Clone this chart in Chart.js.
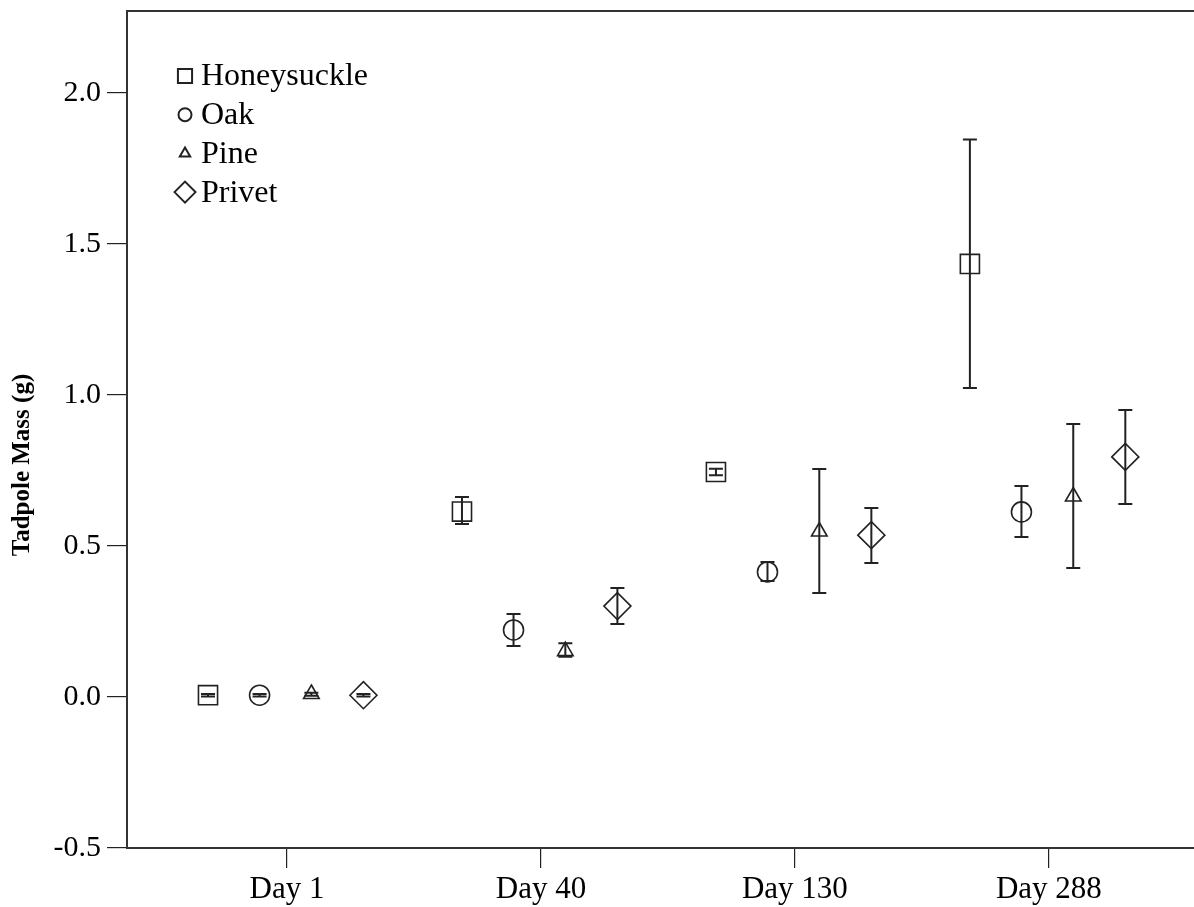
<!DOCTYPE html>
<html>
<head>
<meta charset="utf-8">
<script src="https://cdn.jsdelivr.net/npm/chart.js@4.4.1/dist/chart.umd.min.js"></script>
<style>
  html, body { margin: 0; padding: 0; background: #fff; }
  #wrap { width: 1194px; height: 907px; }
</style>
</head>
<body>
<div id="wrap"><canvas id="massChart"></canvas></div>
<script>
// tick labels / categories
const categories = ['Day 1', 'Day 40', 'Day 130', 'Day 288'];
const seriesNames = ['Honeysuckle', 'Oak', 'Pine', 'Privet'];
const yTickValues = [-0.5, 0.0, 0.5, 1.0, 1.5, 2.0];
const yTitle = 'Tadpole Mass (g)';

// mean mass (g) and error bar ends
const honeysuckleMean = [0.006, 0.614, 0.745, 1.434];
const honeysuckleLow  = [0.002, 0.573, 0.734, 1.023];
const honeysuckleHigh = [0.010, 0.662, 0.756, 1.846];

const oakMean = [0.006, 0.222, 0.414, 0.613];
const oakLow  = [0.002, 0.169, 0.384, 0.530];
const oakHigh = [0.010, 0.275, 0.447, 0.699];

const pineMean = [0.010, 0.152, 0.548, 0.664];
const pineLow  = [0.004, 0.133, 0.344, 0.427];
const pineHigh = [0.014, 0.178, 0.755, 0.904];

const privetMean = [0.006, 0.301, 0.536, 0.795];
const privetLow  = [0.002, 0.242, 0.444, 0.639];
const privetHigh = [0.010, 0.361, 0.626, 0.950];

// layout of the clustered markers inside each day
const groupOffsets = [-0.311, -0.108, 0.096, 0.301];
const pointStyles = ['rect', 'circle', 'triangle', 'rectRot'];
const pointRadii = [13.5, 10, 9, 13.5];
const legendRadii = [10, 6.5, 6, 10.5];
const frameTop = 11;

const means = [honeysuckleMean, oakMean, pineMean, privetMean];
const lows = [honeysuckleLow, oakLow, pineLow, privetLow];
const highs = [honeysuckleHigh, oakHigh, pineHigh, privetHigh];

const ink = '#222';
const serif = "'Liberation Serif', 'Times New Roman', serif";

const datasets = seriesNames.map((name, s) => ({
    label: name,
    data: means[s].map((v, i) => ({ x: i + groupOffsets[s], y: v })),
    errLow: lows[s],
    errHigh: highs[s],
    showLine: false,
    pointStyle: pointStyles[s],
    pointRadius: pointRadii[s],
    pointHoverRadius: pointRadii[s],
    pointBorderWidth: 1.6,
    borderColor: ink,
    backgroundColor: 'rgba(0,0,0,0)'
}));

// error bars drawn from the y scale
const errorBars = {
    id: 'errorBars',
    afterDatasetsDraw(chart) {
        const ctx = chart.ctx;
        const y = chart.scales.y;
        ctx.save();
        ctx.strokeStyle = ink;
        ctx.lineWidth = 2;
        chart.data.datasets.forEach((ds, d) => {
            const meta = chart.getDatasetMeta(d);
            meta.data.forEach((pt, i) => {
                const top = y.getPixelForValue(ds.errHigh[i]);
                const bot = y.getPixelForValue(ds.errLow[i]);
                ctx.beginPath();
                ctx.moveTo(pt.x, top); ctx.lineTo(pt.x, bot);
                ctx.moveTo(pt.x - 7, top); ctx.lineTo(pt.x + 7, top);
                ctx.moveTo(pt.x - 7, bot); ctx.lineTo(pt.x + 7, bot);
                ctx.stroke();
            });
        });
        ctx.restore();
    }
};

// frame lines to the page edge, axis title and legend inside the plot
const frameAndLegend = {
    id: 'frameAndLegend',
    afterDraw(chart) {
        const ctx = chart.ctx;
        const a = chart.chartArea;
        ctx.save();
        ctx.strokeStyle = '#333';
        ctx.lineWidth = 2;
        ctx.beginPath();
        ctx.moveTo(a.left - 1, frameTop);
        ctx.lineTo(chart.width, frameTop);
        ctx.moveTo(a.left, frameTop - 1);
        ctx.lineTo(a.left, a.top + 2);
        ctx.moveTo(a.right - 1, a.bottom);
        ctx.lineTo(chart.width, a.bottom);
        ctx.stroke();

        // y axis title
        ctx.save();
        ctx.translate(23, 465);
        ctx.rotate(-Math.PI / 2);
        ctx.font = 'bold 25px ' + serif;
        ctx.fillStyle = '#000';
        ctx.textAlign = 'center';
        ctx.textBaseline = 'middle';
        ctx.fillText(yTitle, 0, 0);
        ctx.restore();

        ctx.font = '32px ' + serif;
        ctx.textBaseline = 'middle';
        chart.data.datasets.forEach((ds, s) => {
            const cx = a.left + 58;
            const cy = frameTop + 65 + s * 38.7;
            ctx.strokeStyle = ink;
            ctx.fillStyle = 'rgba(0,0,0,0)';
            if (Chart.helpers && Chart.helpers.drawPoint) {
                Chart.helpers.drawPoint(ctx, {
                    pointStyle: pointStyles[s], radius: legendRadii[s],
                    borderWidth: 1.4, rotation: 0
                }, cx, cy);
            }
            ctx.fillStyle = '#000';
            ctx.fillText(ds.label, a.left + 74, cy + 1);
        });
        ctx.restore();
    }
};

const canvas = document.getElementById('massChart');
new Chart(canvas.getContext('2d'), {
    type: 'scatter',
    data: { datasets: datasets },
    options: {
        responsive: true,
        maintainAspectRatio: false,
        animation: false,
        events: [],
        layout: { padding: { top: 11, right: 0, left: 0, bottom: 0 } },
        plugins: {
            legend: { display: false },
            tooltip: { enabled: false }
        },
        scales: {
            x: {
                type: 'linear',
                min: -0.63,
                max: 3.512,
                afterBuildTicks: s => { s.ticks = categories.map((c, i) => ({ value: i })); },
                afterFit: s => {
                    s.height = 59;
                    s.paddingLeft = 0;
                    s.paddingRight = 0;
                },
                ticks: {
                    callback: v => categories[v] !== undefined ? categories[v] : '',
                    font: { family: serif, size: 31 },
                    color: '#000',
                    padding: 3,
                    maxRotation: 0
                },
                grid: {
                    drawOnChartArea: false,
                    drawTicks: true,
                    tickLength: 20,
                    color: '#222',
                    lineWidth: 1.2
                },
                border: { display: true, color: '#333', width: 2 }
            },
            y: {
                min: -0.5,
                max: 2.258,
                afterBuildTicks: s => { s.ticks = yTickValues.map(v => ({ value: v })); },
                afterFit: s => {
                    s.width = 127;
                    s.paddingTop = 0;
                    s.paddingBottom = 0;
                },
                ticks: {
                    callback: v => v.toFixed(1),
                    font: { family: serif, size: 30 },
                    color: '#000',
                    padding: 6
                },
                grid: {
                    drawOnChartArea: false,
                    drawTicks: true,
                    tickLength: 20,
                    color: '#222',
                    lineWidth: 1.2
                },
                border: { display: true, color: '#333', width: 2 }
            }
        }
    },
    plugins: [errorBars, frameAndLegend]
});
</script>
</body>
</html>
